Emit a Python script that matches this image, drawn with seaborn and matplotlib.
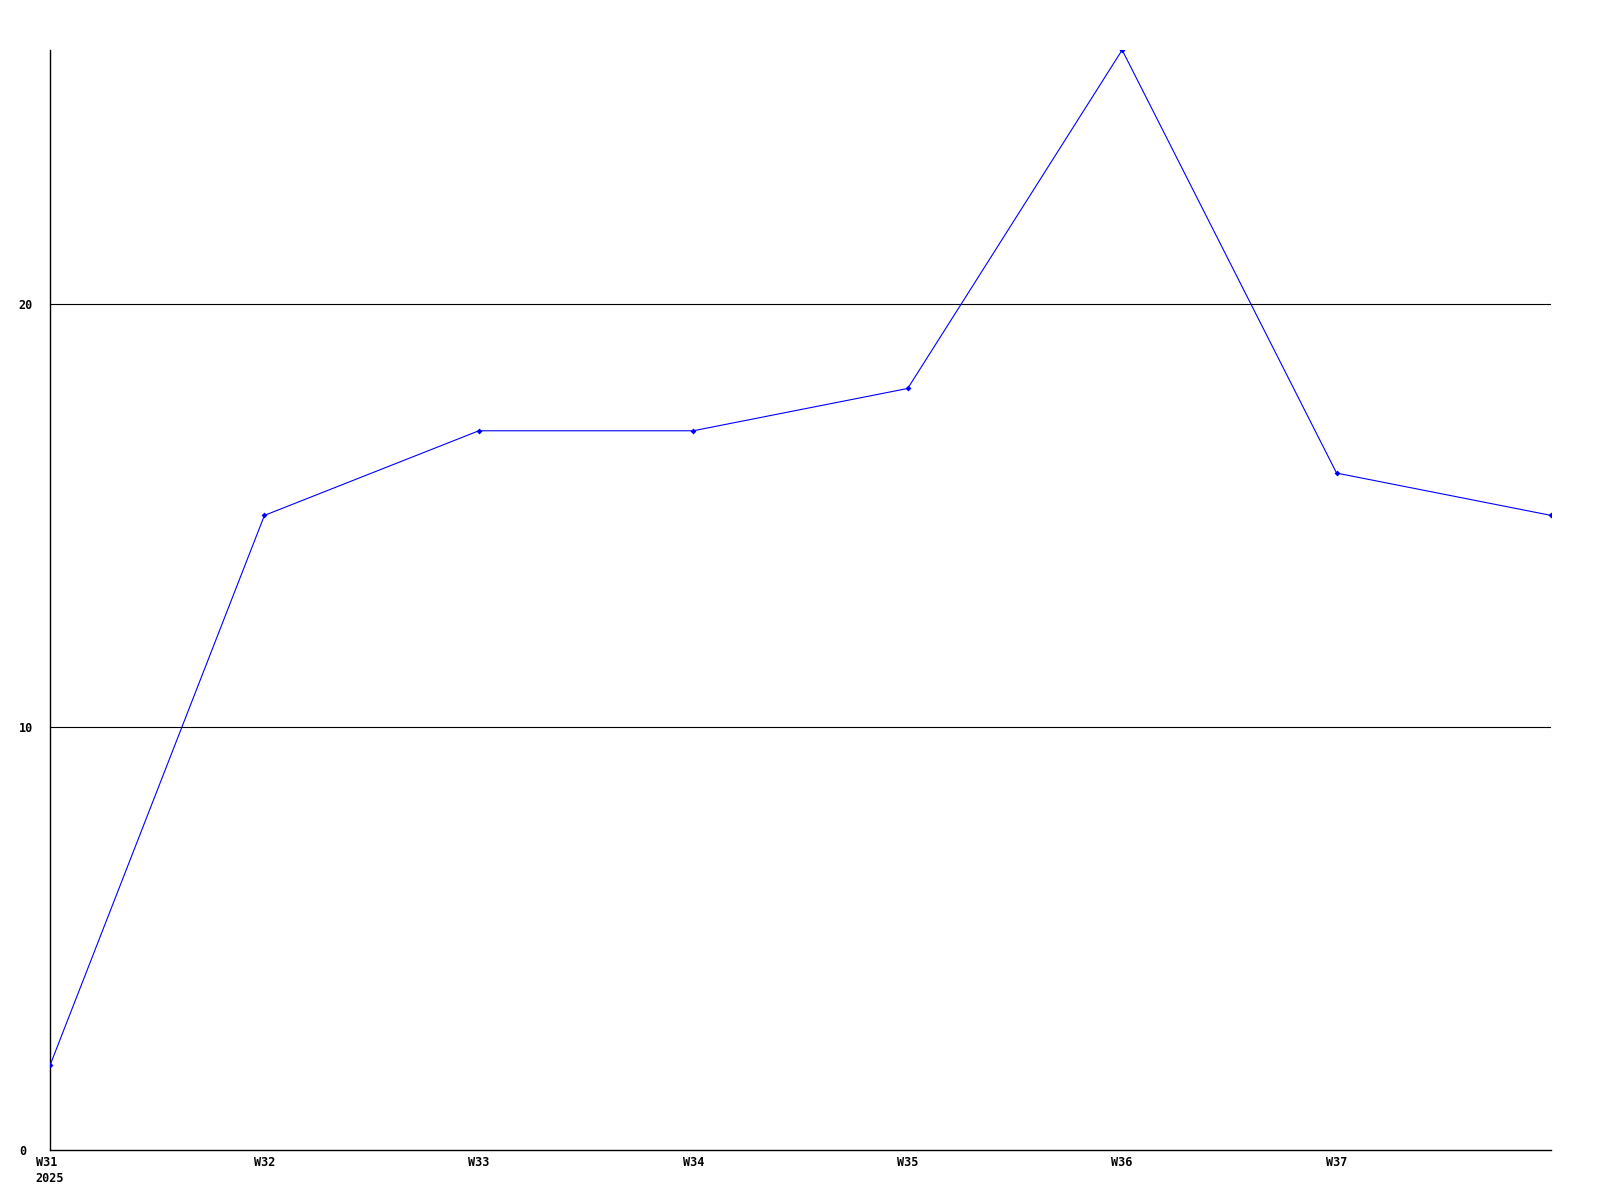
import pandas as pd
import matplotlib
matplotlib.use("Agg")
import matplotlib.pyplot as plt
import seaborn as sns

# weekly counts
weeks = ["W31", "W32", "W33", "W34", "W35", "W36", "W37", "W38"]
counts = [2, 15, 17, 17, 18, 26, 16, 15]
tick_labels = ["W31\n2025", "W32", "W33", "W34", "W35", "W36", "W37"]
y_ticks = [0, 10, 20]

df = pd.DataFrame({"week": weeks, "count": counts})
df["pos"] = range(len(df))

sns.set_style("white")
plt.rcParams["font.family"] = ["DejaVu Sans Mono"]

fig = plt.figure(figsize=(16, 12), dpi=100)
ax = fig.add_axes([50 / 1600, 50 / 1200, 1501 / 1600, 1100 / 1200])

sns.lineplot(data=df, x="pos", y="count", ax=ax, color="#0000ff", linewidth=0.8,
             marker="D", markersize=3, markeredgewidth=0, zorder=3)

ax.set_xlim(0, len(weeks) - 1)
ax.set_ylim(0, max(counts))
ax.set_xticks(range(len(tick_labels)))
ax.set_xticklabels(tick_labels, ha="center", multialignment="left", linespacing=1.35)
ax.set_yticks(y_ticks)
ax.set_yticklabels([str(v) for v in y_ticks], ha="left")
for lab in ax.get_xticklabels() + ax.get_yticklabels():
    lab.set_fontsize(8.5)
    lab.set_fontweight("bold")
    lab.set_color("black")
ax.tick_params(axis="x", length=0, pad=4)
ax.tick_params(axis="y", length=0, pad=22.5)

for v in y_ticks[1:]:
    ax.axhline(v, color="black", linewidth=0.8, zorder=1)

sns.despine(ax=ax)
for s in ["left", "bottom"]:
    ax.spines[s].set_color("black")
    ax.spines[s].set_linewidth(1)
ax.set_xlabel("")
ax.set_ylabel("")

fig.savefig("out.png", dpi=100)
